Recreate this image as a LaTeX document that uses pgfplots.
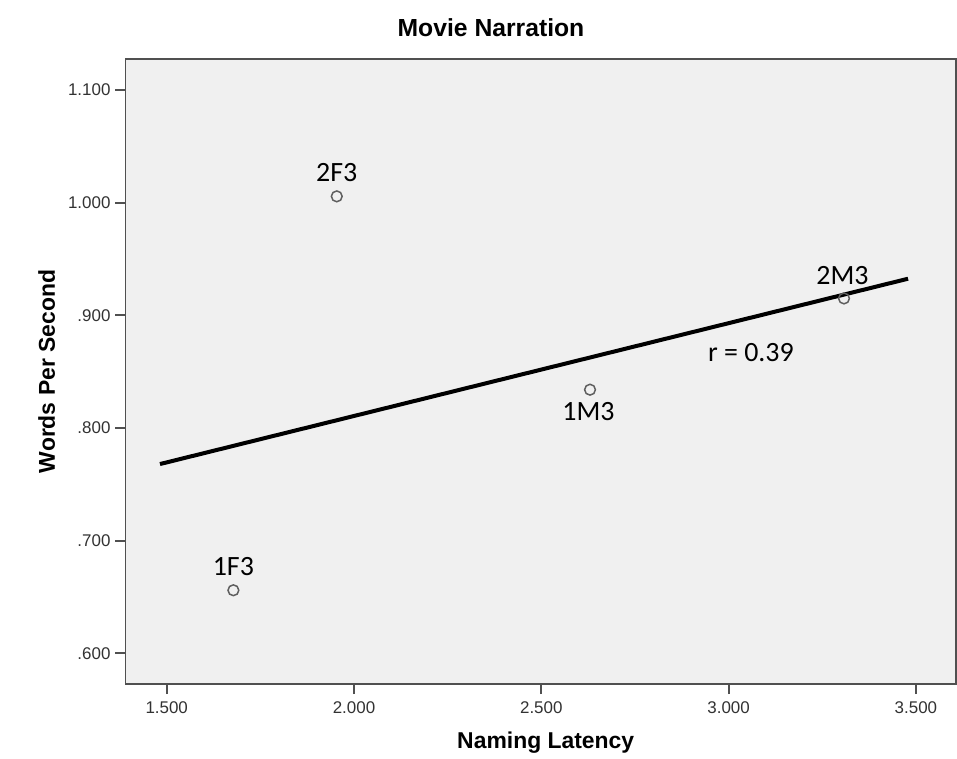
\documentclass[border=0pt]{standalone}
\usepackage{pgfplots}
\pgfplotsset{compat=1.18}
\usepackage{fontspec}
\setmainfont{Liberation Sans}
\newfontfamily\calib{Carlito}
\definecolor{bgfill}{RGB}{240,240,240}
\definecolor{framec}{RGB}{80,80,80}
\definecolor{tickc}{RGB}{50,50,50}
\definecolor{markc}{RGB}{95,95,95}
\begin{document}
\begin{tikzpicture}
\useasboundingbox (-62.75bp,-37.5bp) rectangle (415.75bp,342bp);
\begin{axis}[
  scale only axis,
  width=415.25bp, height=312.5bp,
  xmin=1.39, xmax=3.607,
  ymin=0.5728, ymax=1.1275,
  axis background/.style={fill=bgfill},
  axis line style={draw=framec, line width=0.9bp},
  tick style={draw=framec, line width=0.9bp},
  tick align=outside,
  major tick length=5bp,
  xtick pos=bottom, ytick pos=left,
  xtick={1.5,2,2.5,3,3.5},
  xticklabels={1.500,2.000,2.500,3.000,3.500},
  ytick={0.6,0.7,0.8,0.9,1.0,1.1},
  yticklabels={.600,.700,.800,.900,1.000,1.100},
  /pgf/number format/assume math mode=true,
  tick label style={font=\fontsize{8.5}{10}\selectfont, text=tickc},
  xticklabel style={yshift=-0.5bp},
  yticklabel style={xshift=1bp},
  title={\textbf{Movie Narration}},
  title style={at={(axis description cs:0.4401,1)}, anchor=base, yshift=5.35bp, font=\fontsize{12.4}{14}\selectfont},
  xlabel={\textbf{Naming Latency}},
  xlabel style={at={(axis description cs:0.506,0)}, anchor=base, yshift=-32.15bp, font=\fontsize{11.5}{13}\selectfont},
  ylabel={\textbf{Words Per Second}},
  ylabel style={at={(axis description cs:0,0.5)}, anchor=base, yshift=35.25bp, font=\fontsize{11.5}{13}\selectfont},
  clip=false,
]
\addplot[only marks, mark=o, mark size=2.7bp, mark options={draw=markc, line width=0.75bp, fill=none}]
  coordinates {(1.678,0.656) (1.954,1.0056) (2.630,0.834) (3.308,0.915)};
\addplot[black, line width=2bp] coordinates {(1.482,0.768) (3.479,0.9325)};
\node[font=\calib\fontsize{14}{16}\selectfont] at (axis cs:1.678,0.677) {1F3};
\node[font=\calib\fontsize{14}{16}\selectfont] at (axis cs:1.954,1.0268) {2F3};
\node[font=\calib\fontsize{14}{16}\selectfont] at (axis cs:2.626,0.8145) {1M3};
\node[font=\calib\fontsize{14}{16}\selectfont] at (axis cs:3.304,0.9355) {2M3};
\node[font=\calib\fontsize{14}{16}\selectfont] at (axis cs:3.0595,0.867) {r = 0.39};
\end{axis}
\end{tikzpicture}
\end{document}
